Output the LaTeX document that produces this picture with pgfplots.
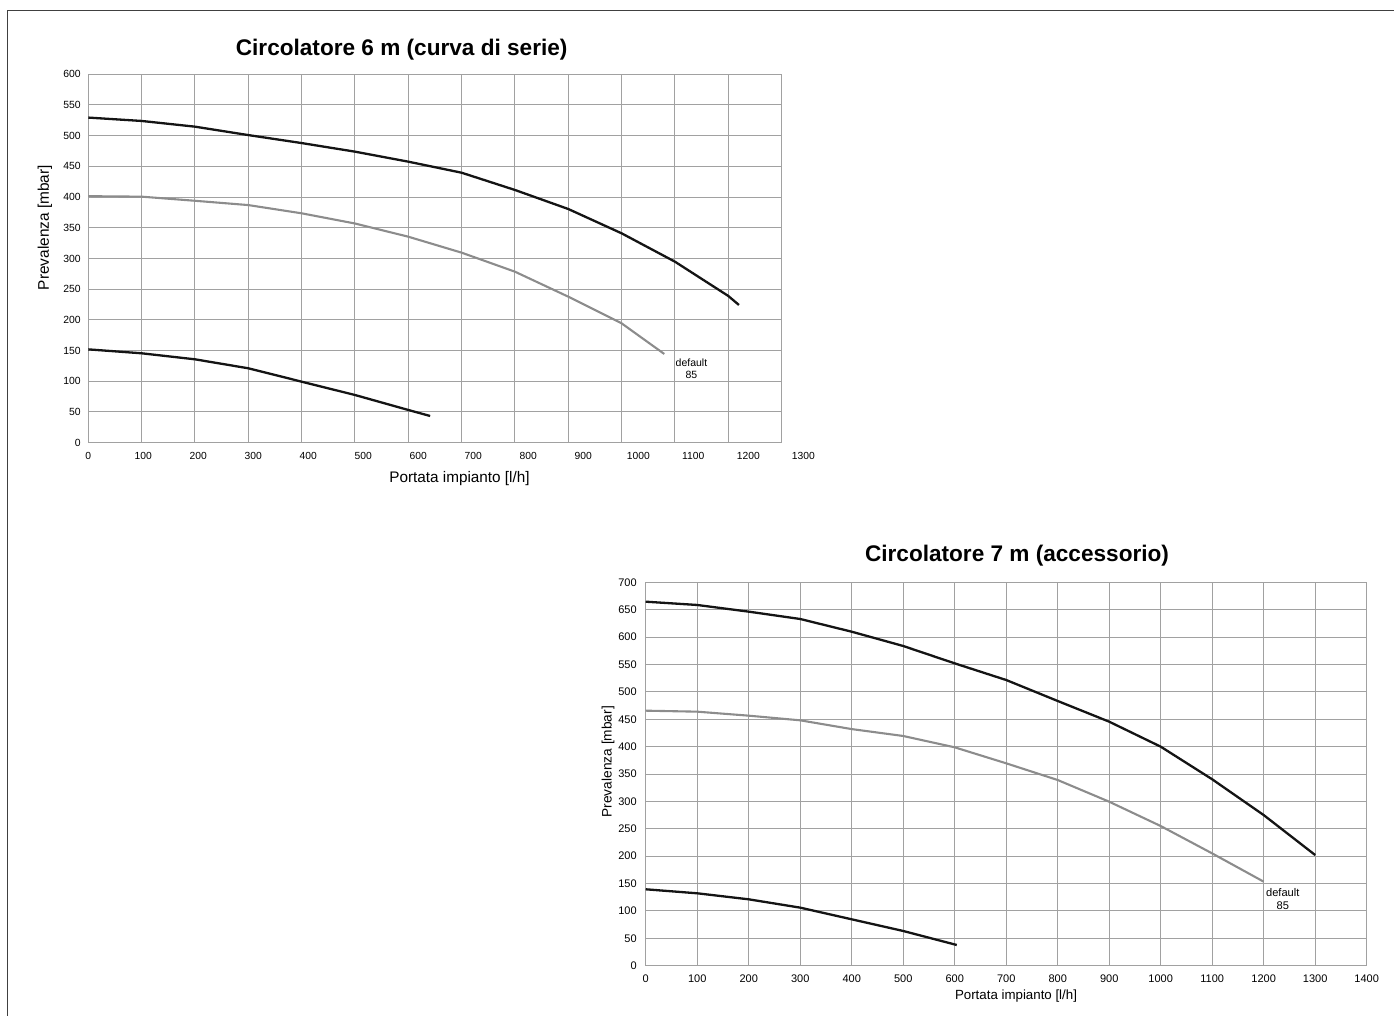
\documentclass[border=0pt]{standalone}
\usepackage{fontspec}
\setmainfont{Liberation Sans}
\usepackage{pgfplots}
\pgfplotsset{compat=1.18}

\definecolor{gridgray}{rgb}{0.63,0.63,0.63}
\definecolor{curvegray}{rgb}{0.55,0.55,0.55}
\definecolor{curveblack}{rgb}{0.08,0.08,0.08}

\pgfplotsset{
  pumpchart/.style={
    scale only axis,
    anchor=south west,
    grid=major,
    grid style={gridgray, line width=1pt},
    axis line style={gridgray, line width=1.1pt},
    major tick length=0pt,
    tick style={draw=none},
    /pgf/number format/assume math mode=true,
    /pgf/number format/1000 sep={},
    clip=false,
  },
  black curve/.style={curveblack, line width=2.3pt, line join=round, no marks},
  gray curve/.style={curvegray, line width=2.1pt, line join=round, no marks},
}

\begin{document}
\begin{tikzpicture}

% ---------- Circolatore 6 m ----------
\begin{axis}[pumpchart,
  at={(88.3pt,572.3pt)},
  width=693.3pt, height=368.4pt,
  xmin=0, xmax=1300, ymin=0, ymax=600,
  xtick={0,100,...,1300}, xticklabels={},
  ytick={0,50,...,600},
  yticklabel style={font=\fontsize{10.4}{12}\selectfont, xshift=-4pt},
  title={\fontsize{22.6}{26}\selectfont\bfseries Circolatore 6 m (curva di serie)},
  title style={at={(axis description cs:0.452,1.0335)}, anchor=base, yshift=0pt},
  xlabel={\fontsize{15.3}{18}\selectfont Portata impianto [l/h]},
  xlabel style={at={(axis description cs:0.5354,-0.1076)}, anchor=base},
  ylabel={\fontsize{15.4}{18}\selectfont Prevalenza [mbar]},
  ylabel style={at={(axis description cs:-0.0625,0.584)}, anchor=center},
]
\addplot[black curve] coordinates {
  (0,529.5) (100,524) (200,514.7) (300,501) (400,488) (500,474)
  (600,457.7) (700,439.7) (800,411.6) (900,380.6) (1000,341)
  (1100,294.8) (1200,239) (1220,224.3)
};
\addplot[gray curve] coordinates {
  (0,401.5) (100,400.7) (200,394) (300,387) (400,373.6) (500,357)
  (600,335.5) (700,309.5) (800,278.5) (900,237.8) (1000,194.4)
  (1080,144.5)
};
\addplot[black curve] coordinates {
  (0,152) (100,145.6) (200,135.8) (300,121.2) (400,99.4) (500,77.7)
  (600,53.3) (641,43.5)
};
\node[align=center, font=\fontsize{10.5}{11.7}\selectfont, inner sep=0pt]
  at (axis cs:1131,120.8) {default\\85};
\end{axis}

% x tick labels of the first chart, spaced as in the original
\begin{axis}[scale only axis, anchor=south west,
  at={(88.3pt,572.3pt)},
  width=770pt, height=368.4pt,
  xmin=0, xmax=1400, ymin=0, ymax=1,
  axis line style={draw=none}, tick style={draw=none},
  major tick length=0pt,
  ytick=\empty,
  xtick={0,100,...,1300},
  /pgf/number format/assume math mode=true,
  /pgf/number format/1000 sep={},
  xticklabel style={font=\fontsize{10.3}{12}\selectfont, yshift=-6pt},
]
\end{axis}

% ---------- Circolatore 7 m ----------
\begin{axis}[pumpchart,
  at={(645.7pt,49.3pt)},
  width=721pt, height=383.4pt,
  xmin=0, xmax=1400, ymin=0, ymax=700,
  xtick={0,100,...,1400},
  ytick={0,50,...,700},
  xticklabel style={font=\fontsize{11}{13}\selectfont, yshift=-6pt},
  yticklabel style={font=\fontsize{11}{13}\selectfont, xshift=-5.5pt},
  title={\fontsize{22.6}{26}\selectfont\bfseries Circolatore 7 m (accessorio)},
  title style={at={(axis description cs:0.515,1.038)}, anchor=base, yshift=0pt},
  xlabel={\fontsize{13.3}{16}\selectfont Portata impianto [l/h]},
  xlabel style={at={(axis description cs:0.5136,-0.0880)}, anchor=base},
  ylabel={\fontsize{13.7}{16}\selectfont Prevalenza [mbar]},
  ylabel style={at={(axis description cs:-0.0523,0.532)}, anchor=center},
]
\addplot[black curve] coordinates {
  (0,664.6) (100,658.6) (200,646.4) (300,633) (400,609.8) (500,583.7)
  (600,552) (700,521.6) (800,483.3) (900,445.5) (1000,399.9)
  (1100,340.3) (1200,275) (1300,202)
};
\addplot[gray curve] coordinates {
  (0,465.6) (100,463.8) (200,456.5) (300,448) (400,432) (500,419.4)
  (600,398.7) (700,369.5) (800,339) (900,299.4) (1000,255)
  (1100,205) (1200,153.4)
};
\addplot[black curve] coordinates {
  (0,139.5) (100,132.2) (200,121.2) (300,106) (400,84.7) (500,63.4)
  (604,37.8)
};
\node[align=center, font=\fontsize{11.1}{13.3}\selectfont, inner sep=0pt]
  at (axis cs:1237,122.3) {default\\85};
\end{axis}

% frame of the sheet
\draw[line width=1.4pt, black!75] (7.7pt,-5pt) -- (7.7pt,1004.5pt) -- (1400pt,1004.5pt);

\pgfresetboundingbox
\path[use as bounding box] (0pt,0pt) rectangle (1394pt,1015pt);
\end{tikzpicture}
\end{document}
